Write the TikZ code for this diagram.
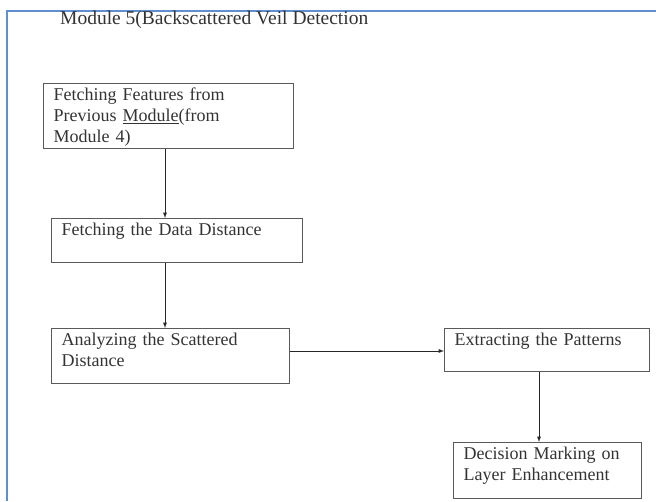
\documentclass[tikz,border=0pt]{standalone}
\usepackage{fontspec}
\setmainfont{Liberation Serif}
\usepackage{xcolor}
\definecolor{framblue}{HTML}{5F8FCF}
\definecolor{boxgray}{HTML}{5A5A5A}
\definecolor{txtgray}{HTML}{333333}
\begin{document}
\begin{tikzpicture}[>=latex, x=1pt, y=-1pt,
        font=\fontsize{18}{21}\selectfont, text=txtgray,
        stepbox/.style={draw=boxgray, line width=1.2pt, anchor=north west, align=left,
            inner xsep=10pt, inner ysep=0pt, text height=17pt},
        link/.style={->, line width=0.9pt, draw=black!85}]
            \useasboundingbox (0,0) rectangle (656,501);
            \draw[framblue, line width=1.8pt] (656,11) -- (7,11) -- (7,501);
            \node[anchor=base west, inner sep=0pt, font=\fontsize{19.5}{22}\selectfont] (title) at (60,24)
                {Module 5(Backscattered Veil Detection};
            \node[stepbox, text width=230pt, text depth=48pt] (fetch) at (43,83)
                {Fetching Features from\\Previous \underline{Module}(from\\Module 4)};
            \node[stepbox, text width=231pt, text depth=27pt] (data) at (51,218) {Fetching the Data Distance};
            \node[stepbox, text width=218pt, text depth=38pt] (scatter) at (51,328)
                {Analyzing the Scattered\\Distance};
            \node[stepbox, text width=185pt, text depth=26pt] (pattern) at (444,328) {Extracting the Patterns};
            \node[stepbox, text width=168pt, text depth=39pt] (decide) at (453,442)
                {Decision Marking on\\Layer Enhancement};
            \coordinate (colA) at (165,0);
            \coordinate (colB) at (539,0);
            \coordinate (rowA) at (0,351);
            \draw[link] (colA |- fetch.south) -- (colA |- data.north);
            \draw[link] (colA |- data.south) -- (colA |- scatter.north);
            \draw[link] (scatter.east |- rowA) -- (pattern.west |- rowA);
            \draw[link] (colB |- pattern.south) -- (colB |- decide.north);
        \end{tikzpicture}
\end{document}
